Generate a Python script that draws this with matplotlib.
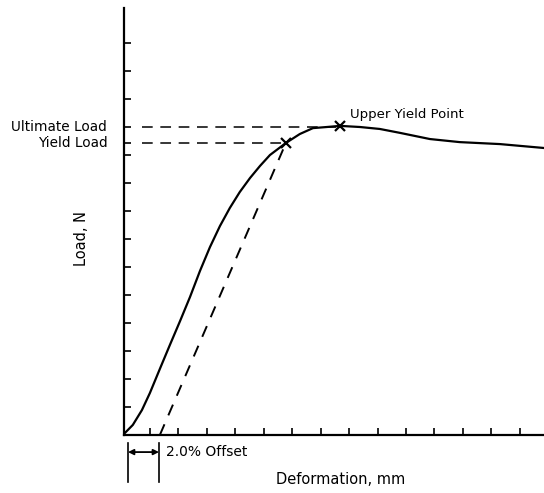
import matplotlib

matplotlib.use('Agg')
import matplotlib.pyplot as plt

# load-deformation curve (x in tick units of deformation, y in tick units of load)
deform = [0.12, 0.40, 0.72, 1.00, 1.35, 1.70, 2.06, 2.41, 2.76, 3.11, 3.46, 3.81,
          4.16, 4.52, 4.87, 5.22, 5.78, 6.27, 6.73, 7.22, 7.68, 8.38, 9.08, 9.79,
          10.84, 11.89, 13.30, 14.85]
load = [0.07, 0.36, 0.89, 1.50, 2.36, 3.21, 4.07, 4.93, 5.86, 6.71, 7.46, 8.11,
        8.68, 9.18, 9.61, 10.00, 10.43, 10.75, 10.96, 11.00, 11.04, 11.00, 10.93, 10.79,
        10.57, 10.46, 10.39, 10.25]

yield_pt = (5.78, 10.43)
upper_pt = (7.68, 11.04)
ultimate_load = 11.0
yield_load = 10.43
offset_start = 1.35
offset_left = 0.23
dash_start = 0.72

x_ticks = list(range(1, 15))
y_ticks = list(range(1, 15))

fig = plt.figure(figsize=(5.44, 4.93), dpi=100)
ax = fig.add_axes([124 / 544, 58 / 493, 420 / 544, 427 / 493])
ax.set_xlim(0.09, 14.85)
ax.set_ylim(0, 15.25)

for s in ['top', 'right']:
    ax.spines[s].set_visible(False)
for s in ['left', 'bottom']:
    ax.spines[s].set_linewidth(1.6)

ax.plot(deform, load, color='black', lw=1.6, solid_joinstyle='round')

# offset line parallel to the elastic part
ax.plot([offset_start, yield_pt[0]], [0, yield_pt[1]], color='black', lw=1.4,
        linestyle=(0, (6, 5)))
# horizontal guides
ax.plot([dash_start, upper_pt[0]], [ultimate_load, ultimate_load], color='black', lw=1.1,
        linestyle=(0, (7, 5)))
ax.plot([dash_start, yield_pt[0]], [yield_load, yield_load], color='black', lw=1.1,
        linestyle=(0, (7, 5)))

ax.plot(*yield_pt, marker='x', color='black', ms=7, mew=1.6)
ax.plot(*upper_pt, marker='x', color='black', ms=7, mew=1.6)
ax.text(upper_pt[0] + 0.35, upper_pt[1] + 0.4, 'Upper Yield Point', fontsize=9.5,
        va='center', ha='left')

ax.set_xticks(x_ticks)
ax.set_xticklabels([])
ax.set_yticks(y_ticks + [yield_load])
ax.set_yticklabels(['' for t in y_ticks] + [''])
ax.tick_params(axis='both', direction='in', length=5, width=1.2)

ax.text(-0.5, ultimate_load, 'Ultimate Load', ha='right', va='center', fontsize=9.8)
ax.text(-0.5, yield_load, 'Yield Load', ha='right', va='center', fontsize=9.8)

# 2.0% offset marker below the axis
ax.plot([offset_left, offset_left], [-0.29, -1.68], color='black', lw=1.2, clip_on=False)
ax.plot([offset_start - 0.03, offset_start - 0.03], [-0.29, -1.68], color='black', lw=1.2,
        clip_on=False)
ax.annotate('', xy=(offset_start - 0.03, -0.61), xytext=(offset_left, -0.61),
            arrowprops=dict(arrowstyle='<|-|>', color='black', lw=1.3, mutation_scale=8,
                            shrinkA=0, shrinkB=0), annotation_clip=False)
ax.text(offset_start + 0.2, -0.61, '2.0% Offset', ha='left', va='center', fontsize=10)

ax.text(7.7, -1.6, 'Deformation, mm', ha='center', va='center', fontsize=10.5)
ax.text(-1.4, 7.0, 'Load, N', ha='center', va='center', rotation=90, fontsize=10.5)

fig.savefig('out.png', dpi=100)
